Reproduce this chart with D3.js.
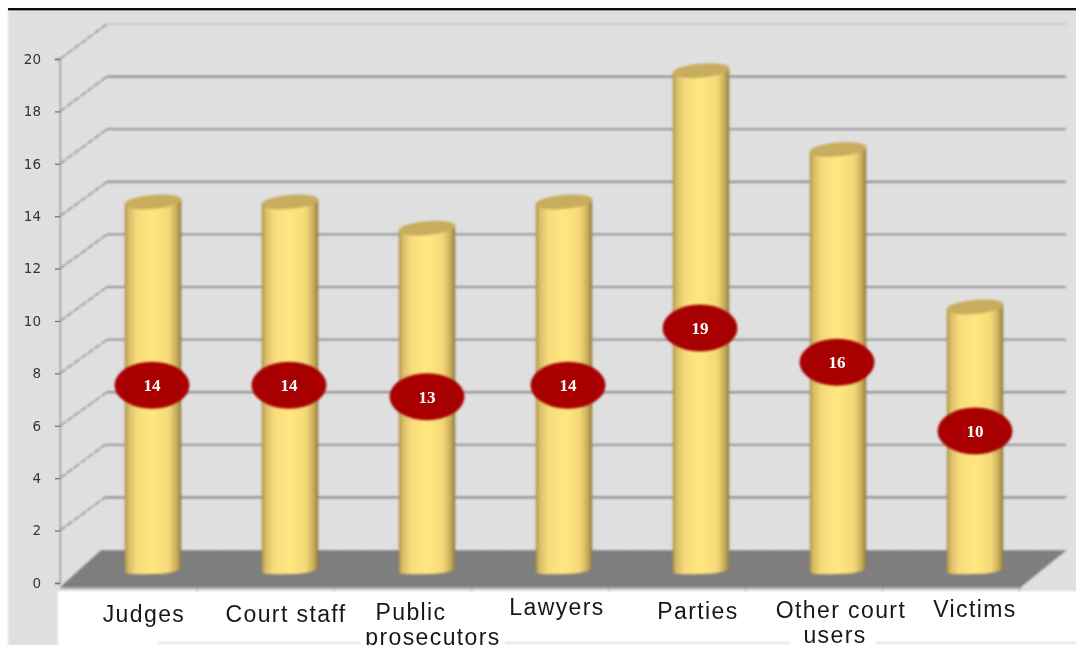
<!DOCTYPE html>
<html><head><meta charset="utf-8">
<script src="https://cdn.jsdelivr.net/npm/d3@7/dist/d3.min.js"></script>
<style>html,body{margin:0;padding:0;background:#fff;overflow:hidden}svg{display:block}</style>
</head><body><div id="c"></div>
<script>
const categories = ["Judges","Court staff","Public prosecutors","Lawyers","Parties","Other court users","Victims"];
const values = [14,14,13,14,19,16,10];
const yTicks = [0,2,4,6,8,10,12,14,16,18,20];
const categoryLines = [["Judges"],["Court staff"],["Public","prosecutors"],["Lawyers"],["Parties"],["Other court","users"],["Victims"]];

const W=1076,H=645;
const svg=d3.select("#c").append("svg").attr("width",W).attr("height",H);
const defs=svg.append("defs");
const blur=defs.append("filter").attr("id","soft").attr("x","-10%").attr("y","-10%").attr("width","120%").attr("height","120%");
blur.append("feGaussianBlur").attr("stdDeviation",0.9);
const blurT=defs.append("filter").attr("id","softT").attr("x","-10%").attr("y","-20%").attr("width","120%").attr("height","140%");
blurT.append("feGaussianBlur").attr("stdDeviation",0.55);
const grad=defs.append("linearGradient").attr("id","cyl").attr("x1",0).attr("x2",1).attr("y1",0).attr("y2",0);
[[0,"#a9904c"],[0.07,"#d9bd66"],[0.22,"#f7dc7c"],[0.5,"#ffe77f"],[0.78,"#f5d978"],[0.92,"#c8ab5a"],[1,"#8f7a3e"]]
  .forEach(([o,c])=>grad.append("stop").attr("offset",o).attr("stop-color",c));
const pat=defs.append("pattern").attr("id","dots").attr("width",8).attr("height",8).attr("patternUnits","userSpaceOnUse");
pat.append("rect").attr("width",8).attr("height",8).attr("fill","#dfdfdf");
pat.append("circle").attr("cx",2).attr("cy",2).attr("r",1).attr("fill","#e6e6e6");
pat.append("circle").attr("cx",6).attr("cy",6).attr("r",1).attr("fill","#e6e6e6");
const pat2=defs.append("pattern").attr("id","dotsF").attr("width",6).attr("height",6).attr("patternUnits","userSpaceOnUse");
pat2.append("rect").attr("width",6).attr("height",6).attr("fill","#7f7f7f");
pat2.append("circle").attr("cx",1.5).attr("cy",1.5).attr("r",1).attr("fill","#767676");

// scales
const yFront=d3.scaleLinear().domain([0,20]).range([583,59]);
const yBack=d3.scaleLinear().domain([0,20]).range([550,24]);
const yBar=d3.scaleLinear().domain([0,20]).range([574,49]);
const xBand=d3.scaleBand().domain(categories).range([84.5,1043.5]);
const labelY=d3.scaleLinear().domain([10,19]).range([431,328]);
const xFrontL=60,xBackL=107,xBackR=1067,xFrontR=1020,floorFront=587;

// panel
const g=svg.append("g").attr("filter","url(#soft)");
g.append("path").attr("d",`M8,10H${W+10}V591H58V${H+10}H8Z`).attr("fill","url(#dots)");

// floor
g.append("path").attr("d",`M${xFrontL},${floorFront}L${xBackL-6},${yBack(0)}H${xBackR}L${xFrontR},${floorFront+1}Z`).attr("fill","url(#dotsF)");
g.append("line").attr("x1",xFrontL).attr("x2",xFrontR).attr("y1",floorFront+1).attr("y2",floorFront+1).attr("stroke","#a6a6a6").attr("stroke-width",2);

// grid
yTicks.filter(t=>t>0).forEach(t=>{
  g.append("line").attr("x1",xBackL-(t<6?2:0)).attr("x2",xBackR-1).attr("y1",yBack(t)).attr("y2",yBack(t))
    .attr("stroke",t===20?"#c4c4c4":(t%4===2?"#848484":"#949494")).attr("stroke-width",2.2);
  g.append("line").attr("x1",xFrontL).attr("y1",yFront(t)).attr("x2",xBackL-(t<6?2:0)).attr("y2",yBack(t))
    .attr("stroke","#7d7d7d").attr("stroke-width",1.5).attr("stroke-dasharray","7 1.5");
});

// top rule
svg.append("rect").attr("x",8).attr("y",8).attr("width",W).attr("height",2.4).attr("fill","#0d0d0d");

// y axis
const axis=d3.axisLeft(yFront).tickValues(yTicks).tickSize(5).tickPadding(14);
const ax=svg.append("g").attr("transform",`translate(${xFrontL},0)`).call(axis);
ax.select(".domain").attr("stroke","#8a8a8a").attr("stroke-width",1.3).attr("filter","url(#soft)");
ax.selectAll(".tick line").attr("stroke","#777").attr("stroke-width",1.3);
ax.selectAll("text").attr("font-family","'DejaVu Sans',sans-serif").attr("font-size",13.5).attr("fill","#2f3540").attr("filter","url(#softT)");

// bottom ticks
d3.range(1,8).forEach(i=>{
  const x=xFrontL+(xFrontR-xFrontL)*i/7;
  g.append("line").attr("x1",x).attr("x2",x).attr("y1",floorFront).attr("y2",floorFront+4).attr("stroke","#999").attr("stroke-width",1.2);
});

// cylinders
const bw=56.5,tilt=-5,ry=7,capLift=4.5;
const barX=d=>xBand(d)+xBand.bandwidth()/2;
const bars=svg.append("g").attr("filter","url(#soft)").selectAll("g").data(categories).join("g")
  .attr("transform",d=>`translate(${barX(d)},0)`);
bars.append("path").attr("fill","url(#cyl)").attr("d",(d,i)=>{
  const top=yBar(values[i])-capLift,base=yBar(0),r=bw/2;
  return `M${-r},${top+2}V${base-1}Q${-r+6},${base+1} 0,${base}Q${r-8},${base} ${r},${base-5}V${top-2}Z`;
});
bars.append("ellipse").attr("cx",0).attr("cy",(d,i)=>yBar(values[i])-capLift).attr("rx",bw/2+.5).attr("ry",ry)
  .attr("fill","#c9ad5e").attr("transform",(d,i)=>`rotate(${tilt} 0 ${yBar(values[i])-capLift})`);

// value badges
const badgeX=[152,289,427,568,700,837,975];
const badges=svg.append("g").selectAll("g").data(values).join("g")
  .attr("transform",(d,i)=>`translate(${badgeX[i]},${labelY(d)})`);
badges.append("ellipse").attr("rx",37.5).attr("ry",23.5).attr("fill","#a80606").attr("filter","url(#soft)");
badges.append("text").text(d=>d).attr("text-anchor","middle").attr("dy","0.36em")
  .attr("font-family","'Liberation Serif',serif").attr("font-weight","bold").attr("font-size",17).attr("fill","#fff").attr("filter","url(#softT)");

// bottom hairlines
[[158,360],[505,790],[875,1076]].forEach(([a,b])=>{
  g.append("line").attr("x1",a).attr("x2",b).attr("y1",643).attr("y2",643).attr("stroke","#d4d4d4").attr("stroke-width",1.5);
});

// category labels
const labelPos=[[[144,614]],[[286,614]],[[411,612],[433,637]],[[557,607]],[[698,611]],[[841,610],[835,635]],[[975,609]]];
const cat=svg.append("g").attr("font-family","'Liberation Sans',Arial,sans-serif").attr("font-size",23).attr("letter-spacing",1.4).attr("fill","#14181f").attr("text-anchor","middle").attr("filter","url(#softT)");
categoryLines.forEach((lines,i)=>lines.forEach((t,j)=>{
  cat.append("text").text(t).attr("x",labelPos[i][j][0]).attr("y",labelPos[i][j][1]).attr("dy","0.36em");
}));
</script></body></html>
